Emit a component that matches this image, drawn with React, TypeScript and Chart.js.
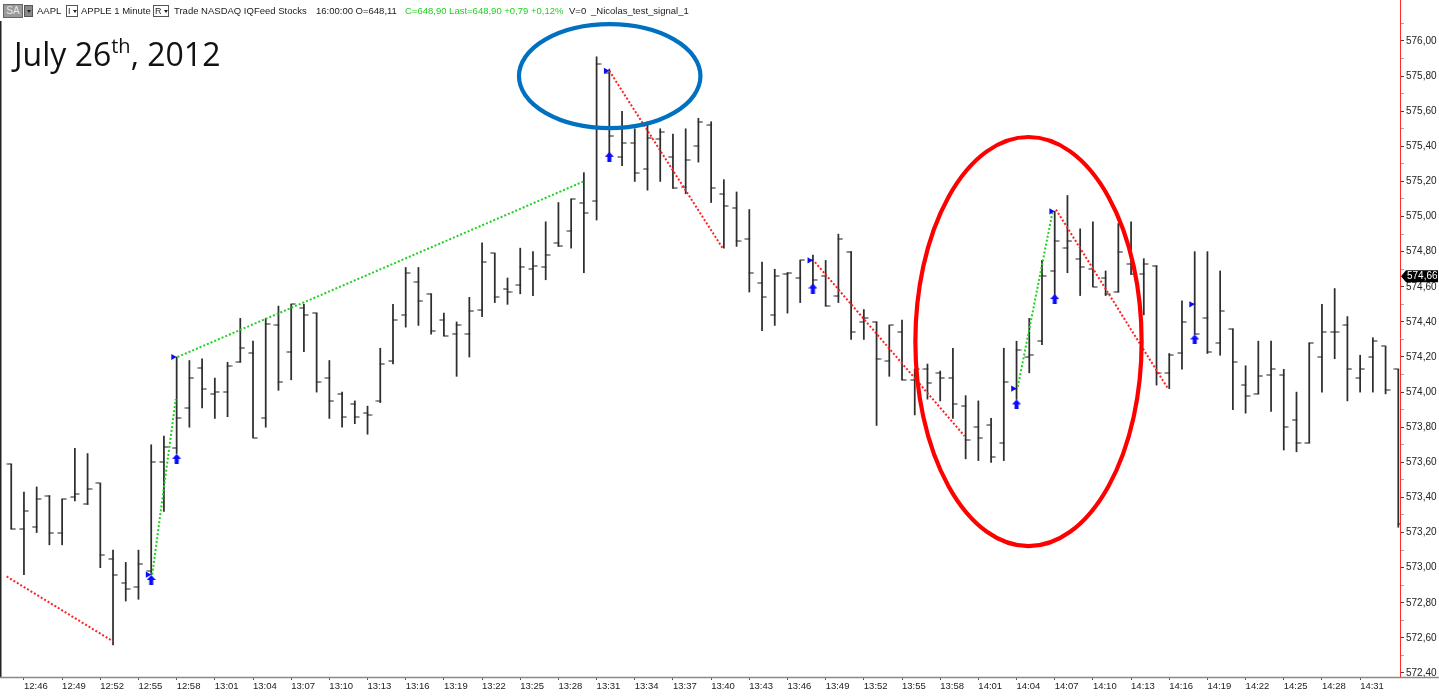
import React, { useEffect, useRef } from "react";
import { Chart, registerables } from "chart.js";

Chart.register(...registerables);

// ---------------- data ----------------
const times = [
  "12:45", "12:46", "12:47", "12:48", "12:49", "12:50", "12:51", "12:52", "12:53", "12:54",
  "12:55", "12:56", "12:57", "12:58", "12:59", "13:00", "13:01", "13:02", "13:03", "13:04",
  "13:05", "13:06", "13:07", "13:08", "13:09", "13:10", "13:11", "13:12", "13:13", "13:14",
  "13:15", "13:16", "13:17", "13:18", "13:19", "13:20", "13:21", "13:22", "13:23", "13:24",
  "13:25", "13:26", "13:27", "13:28", "13:29", "13:30", "13:31", "13:32", "13:33", "13:34",
  "13:35", "13:36", "13:37", "13:38", "13:39", "13:40", "13:41", "13:42", "13:43", "13:44",
  "13:45", "13:46", "13:47", "13:48", "13:49", "13:50", "13:51", "13:52", "13:53", "13:54",
  "13:55", "13:56", "13:57", "13:58", "13:59", "14:00", "14:01", "14:02", "14:03", "14:04",
  "14:05", "14:06", "14:07", "14:08", "14:09", "14:10", "14:11", "14:12", "14:13", "14:14",
  "14:15", "14:16", "14:17", "14:18", "14:19", "14:20", "14:21", "14:22", "14:23", "14:24",
  "14:25", "14:26", "14:27", "14:28", "14:29", "14:30", "14:31", "14:32", "14:33", "14:34",
];

const openP = [
  573.59, 573.22, 573.23, 573.41, 573.2, 573.4, 573.36, 573.48, 573.05, 572.91,
  572.89, 572.98, 573.6, 573.68, 573.91, 574.14, 573.99, 574.0, 574.17, 574.22,
  573.85, 574.38, 574.23, 574.48, 574.45, 574.08, 573.99, 573.93, 573.88, 573.95,
  574.18, 574.44, 574.63, 574.56, 574.41, 574.33, 574.33, 574.47, 574.79, 574.59,
  574.61, 574.7, 574.71, 574.85, 574.92, 575.08, 575.09, 575.82, 575.34, 575.42,
  575.27, 575.44, 575.34, 575.17, 575.4, 575.52, 575.13, 575.05, 574.87, 574.62,
  574.44, 574.67, 574.65, 574.75, 574.66, 574.55, 574.8, 574.4, 574.4, 574.18,
  574.34, 574.07, 574.13, 574.11, 574.08, 573.92, 573.8, 573.81, 573.71, 574.02,
  574.2, 574.29, 574.69, 574.82, 574.76, 574.7, 574.65, 574.57, 574.73, 574.67,
  574.72, 574.11, 574.22, 574.5, 574.42, 574.28, 574.36, 574.04, 573.99, 574.1,
  574.1, 573.84, 573.71, 574.2, 574.34, 574.38, 574.08, 574.2, 574.26, 574.13,
];

const highP = [
  573.59, 573.43, 573.46, 573.41, 573.39, 573.68, 573.65, 573.48, 573.1, 573.03,
  573.1, 573.7, 573.75, 574.2, 574.18, 574.19, 574.08, 574.17, 574.42, 574.29,
  574.42, 574.49, 574.5, 574.5, 574.45, 574.18, 574.0, 573.95, 573.92, 574.25,
  574.5, 574.71, 574.71, 574.56, 574.45, 574.4, 574.54, 574.85, 574.79, 574.65,
  574.82, 574.8, 574.97, 575.08, 575.1, 575.25, 575.91, 575.84, 575.6, 575.5,
  575.54, 575.5, 575.47, 575.5, 575.56, 575.54, 575.21, 575.14, 575.04, 574.74,
  574.7, 574.68, 574.75, 574.78, 574.75, 574.9, 574.8, 574.47, 574.4, 574.38,
  574.41, 574.13, 574.16, 574.12, 574.25, 573.98, 573.95, 573.85, 574.25, 574.29,
  574.42, 574.75, 575.03, 575.12, 574.93, 574.97, 574.69, 574.96, 574.97, 574.76,
  574.72, 574.22, 574.52, 574.8, 574.8, 574.69, 574.36, 574.15, 574.29, 574.29,
  574.13, 574.0, 574.28, 574.5, 574.59, 574.43, 574.21, 574.31, 574.26, 574.13,
];

const lowP = [
  573.22, 572.96, 573.2, 573.13, 573.13, 573.38, 573.36, 573.0, 572.56, 572.81,
  572.82, 572.96, 573.32, 573.65, 573.8, 573.91, 573.85, 573.86, 574.17, 573.74,
  573.8, 574.01, 574.07, 574.23, 574.0, 573.85, 573.8, 573.82, 573.76, 573.94,
  574.16, 574.37, 574.38, 574.33, 574.32, 574.09, 574.2, 574.43, 574.51, 574.5,
  574.56, 574.55, 574.64, 574.83, 574.82, 574.68, 574.98, 575.36, 575.29, 575.2,
  575.15, 575.2, 575.16, 575.13, 575.31, 575.08, 574.82, 574.83, 574.57, 574.35,
  574.38, 574.45, 574.51, 574.6, 574.49, 574.51, 574.3, 574.3, 573.81, 574.09,
  574.07, 573.87, 573.96, 573.95, 573.85, 573.62, 573.61, 573.6, 573.61, 573.96,
  574.11, 574.27, 574.55, 574.68, 574.55, 574.6, 574.55, 574.57, 574.67, 574.44,
  574.04, 574.02, 574.13, 574.33, 574.22, 574.21, 573.9, 573.88, 573.99, 573.89,
  573.67, 573.66, 573.71, 574.0, 574.19, 573.95, 574.0, 574.0, 573.99, 573.23,
];

const closeP = [
  573.22, 573.32, 573.39, 573.2, 573.39, 573.42, 573.45, 573.07, 572.96, 572.88,
  573.02, 573.6, 573.69, 573.85, 574.08, 574.02, 574.0, 574.15, 574.25, 573.74,
  574.39, 574.06, 574.5, 574.44, 574.06, 573.95, 573.86, 573.86, 573.87, 574.16,
  574.41, 574.68, 574.52, 574.35, 574.32, 574.38, 574.46, 574.74, 574.54, 574.57,
  574.71, 574.72, 574.78, 574.83, 575.1, 575.02, 575.87, 575.46, 575.42, 575.25,
  575.45, 575.48, 575.16, 575.32, 575.54, 575.16, 575.06, 574.86, 574.68, 574.54,
  574.66, 574.68, 574.75, 574.64, 574.49, 574.87, 574.34, 574.42, 574.19, 574.38,
  574.07, 574.13, 574.05, 574.08, 573.93, 573.73, 573.74, 573.63, 574.06, 574.24,
  574.21, 574.66, 574.86, 574.86, 574.71, 574.6, 574.56, 574.8, 574.67, 574.73,
  574.11, 574.21, 574.4, 574.33, 574.23, 574.46, 574.17, 573.98, 574.09, 574.13,
  573.8, 573.71, 574.28, 574.34, 574.34, 574.13, 574.13, 574.29, 574.01, 573.25,
];

// signal markers (bar index, price)
const entryBars = [11, 13, 47, 63, 79, 82, 93];
const entryArrowPrice = [572.93, 573.62, 575.34, 574.59, 573.93, 574.53, 574.3];
const entryTrianglePrice = [572.96, 574.2, 575.83, 574.75, 574.02, 575.03, 574.5];

// signal trend lines: [startIndex, startPrice, endIndex, endPrice]
const redSignals = [
  [-0.36, 572.95, 8.0, 572.58],
  [47.0, 575.83, 55.9, 574.82],
  [63.16, 574.74, 74.91, 573.75],
  [82.1, 575.04, 90.9, 574.02],
];
const greenSignals = [
  [11.08, 572.96, 12.93, 573.96],
  [13.07, 574.2, 44.98, 575.2],
  [79.1, 574.03, 81.84, 575.03],
];

// labelled axis values
const xTickIndex = [1, 4, 7, 10, 13, 16, 19, 22, 25, 28, 31, 34, 37, 40, 43, 46, 49, 52, 55, 58, 61, 64, 67, 70, 73, 76, 79, 82, 85, 88, 91, 94, 97, 100, 103, 106];
const yMajorTicks = [572.4, 572.6, 572.8, 573.0, 573.2, 573.4, 573.6, 573.8, 574.0, 574.2, 574.4, 574.6, 574.8, 575.0, 575.2, 575.4, 575.6, 575.8, 576.0];
const lastPrice = 574.66;

// ---------------- layout / style ----------------
const W = 1439;
const H = 697;
const X_MIN = -0.489;
const X_MAX = 109.133;
const Y_MIN = 572.3772;
const Y_MAX = 576.1082;
const BAR_COLOR = "#2e2e2e";
const GREEN = "#22d022";
const RED = "#ff2020";
const BLUE = "#0a0aff";
const FONT = "'Liberation Sans', Arial, sans-serif";

// circled regions (annotation): centre index/price and radii
const highlightEllipses = [
  { cx: 47.03, cy: 575.8, rx: 7.13, ry: 0.296, color: "#0070c0" },
  { cx: 79.94, cy: 574.288, rx: 8.89, ry: 1.165, color: "#ff0000" },
];

function makeTickImage(left: boolean) {
  const c = document.createElement("canvas");
  c.width = 10;
  c.height = 2;
  const g = c.getContext("2d")!;
  g.fillStyle = BAR_COLOR;
  if (left) g.fillRect(0.5, 0.45, 5, 1.1);
  else g.fillRect(4.5, 0.45, 5, 1.1);
  return c;
}

function makeArrowImage() {
  const c = document.createElement("canvas");
  c.width = 9;
  c.height = 10;
  const g = c.getContext("2d")!;
  g.fillStyle = BLUE;
  g.beginPath();
  g.moveTo(0, 5);
  g.lineTo(4.5, 0);
  g.lineTo(9, 5);
  g.closePath();
  g.fill();
  g.fillRect(2.5, 4.5, 4, 5.5);
  return c;
}

const framePlugin = {
  id: "frame",
  afterDraw(chart: any) {
    const ctx = chart.ctx as CanvasRenderingContext2D;
    const xs = chart.scales.x;
    const ys = chart.scales.y;
    const area = chart.chartArea;
    ctx.save();
    // left border
    ctx.strokeStyle = "#222";
    ctx.lineWidth = 1.5;
    ctx.beginPath();
    ctx.moveTo(0.75, 21);
    ctx.lineTo(0.75, area.bottom);
    ctx.stroke();
    // bottom axis line
    ctx.strokeStyle = "#8a8a8a";
    ctx.lineWidth = 1.5;
    ctx.beginPath();
    ctx.moveTo(0, area.bottom + 0.5);
    ctx.lineTo(W, area.bottom + 0.5);
    ctx.stroke();
    // red price axis line
    ctx.strokeStyle = "#ff2a2a";
    ctx.lineWidth = 1;
    ctx.beginPath();
    ctx.moveTo(area.right + 0.5, 0);
    ctx.lineTo(area.right + 0.5, area.bottom);
    ctx.stroke();

    // highlight ellipses
    for (const e of highlightEllipses) {
      const cx = xs.getPixelForValue(e.cx);
      const cy = ys.getPixelForValue(e.cy);
      const rx = Math.abs(xs.getPixelForValue(e.cx + e.rx) - cx);
      const ry = Math.abs(ys.getPixelForValue(e.cy + e.ry) - cy);
      ctx.strokeStyle = e.color;
      ctx.lineWidth = 4.2;
      ctx.beginPath();
      ctx.ellipse(cx, cy, rx, ry, 0, 0, Math.PI * 2);
      ctx.stroke();
    }

    // last price tag
    const py = ys.getPixelForValue(lastPrice);
    const x0 = area.right + 1;
    ctx.fillStyle = "#000";
    ctx.beginPath();
    ctx.moveTo(x0, py);
    ctx.lineTo(x0 + 5, py - 6);
    ctx.lineTo(x0 + 37, py - 6);
    ctx.lineTo(x0 + 37, py + 6);
    ctx.lineTo(x0 + 5, py + 6);
    ctx.closePath();
    ctx.fill();
    ctx.fillStyle = "#fff";
    ctx.font = `10px ${FONT}`;
    ctx.textBaseline = "middle";
    ctx.textAlign = "left";
    ctx.fillText(lastPrice.toFixed(2).replace(".", ","), x0 + 6, py + 0.5);
    ctx.restore();
  },
};

function BoxButton({ left, width, label, dark }: { left: number; width: number; label: string; dark?: boolean }) {
  return (
    <div
      style={{
        position: "absolute",
        left,
        top: 5,
        width,
        height: 12,
        boxSizing: "border-box",
        border: "1px solid #555",
        background: dark ? "#8a8a8a" : "#fff",
        fontFamily: FONT,
        fontSize: 9,
        lineHeight: "10px",
        color: "#222",
        display: "flex",
        alignItems: "center",
        paddingLeft: 1,
      }}
    >
      {label && <span style={{ marginRight: 1 }}>{label}</span>}
      <span
        style={{
          width: 0,
          height: 0,
          borderLeft: "2.5px solid transparent",
          borderRight: "2.5px solid transparent",
          borderTop: "3px solid #222",
          marginLeft: 1,
        }}
      />
    </div>
  );
}

export default function App() {
  const ref = useRef<HTMLCanvasElement | null>(null);

  useEffect(() => {
    const canvas = ref.current;
    if (!canvas) return;
    const openImg = makeTickImage(true);
    const closeImg = makeTickImage(false);
    const arrowImg = makeArrowImage();

    const lineSet = (seg: number[], color: string) => ({
      type: "line" as const,
      data: [
        { x: seg[0], y: seg[1] },
        { x: seg[2], y: seg[3] },
      ],
      borderColor: color,
      borderWidth: 2,
      borderDash: [2, 2],
      pointRadius: 0,
      fill: false,
      tension: 0,
      order: 3,
    });

    const chart = new Chart(canvas, {
      type: "bar",
      data: {
        datasets: [
          {
            type: "bar",
            label: "High-Low",
            data: times.map((_, i) => ({ x: i, y: [lowP[i], highP[i]] })) as any,
            backgroundColor: BAR_COLOR,
            borderWidth: 0,
            barThickness: 1.1,
            order: 5,
          },
          {
            type: "scatter",
            label: "Open",
            data: times.map((_, i) => ({ x: i, y: openP[i] })),
            pointStyle: openImg as any,
            pointRadius: 3,
            order: 4,
          },
          {
            type: "scatter",
            label: "Close",
            data: times.map((_, i) => ({ x: i, y: closeP[i] })),
            pointStyle: closeImg as any,
            pointRadius: 3,
            order: 4,
          },
          ...redSignals.map((s) => lineSet(s, RED)),
          ...greenSignals.map((s) => lineSet(s, GREEN)),
          {
            type: "scatter",
            label: "Entry",
            data: entryBars.map((b, i) => ({ x: b - 0.28, y: entryTrianglePrice[i] })),
            pointStyle: "triangle",
            rotation: 90,
            pointRadius: 3.6,
            backgroundColor: BLUE,
            borderWidth: 0,
            order: 1,
          },
          {
            type: "scatter",
            label: "Signal",
            data: entryBars.map((b, i) => ({ x: b, y: entryArrowPrice[i] })),
            pointStyle: arrowImg as any,
            pointRadius: 4,
            order: 1,
          },
        ] as any,
      },
      options: {
        responsive: false,
        animation: false,
        events: [],
        layout: { padding: { left: 1, top: 22, right: 0, bottom: 0 } },
        plugins: {
          legend: { display: false },
          tooltip: { enabled: false },
          title: { display: false },
        },
        scales: {
          x: {
            type: "linear",
            min: X_MIN,
            max: X_MAX,
            offset: false,
            afterBuildTicks: (s: any) => {
              s.ticks = xTickIndex.map((v) => ({ value: v }));
            },
            afterFit: (s: any) => {
              s.height = 20;
            },
            ticks: {
              autoSkip: false,
              maxRotation: 0,
              minRotation: 0,
              align: "start",
              padding: 1,
              color: "#222",
              font: { family: FONT, size: 9.5 },
              callback: (v: any) => times[v as number] ?? "",
            },
            grid: {
              display: true,
              drawOnChartArea: false,
              drawTicks: true,
              tickLength: 3,
              color: "#555",
              offset: false,
            },
            border: { display: false },
          },
          y: {
            type: "linear",
            position: "right",
            min: Y_MIN,
            max: Y_MAX,
            beginAtZero: false,
            afterBuildTicks: (s: any) => {
              const t: { value: number }[] = [];
              for (const v of yMajorTicks) {
                t.push({ value: v });
                t.push({ value: Math.round((v + 0.1) * 10) / 10 });
              }
              s.ticks = t;
            },
            afterFit: (s: any) => {
              s.width = 39;
            },
            ticks: {
              autoSkip: false,
              padding: 2,
              color: "#222",
              font: { family: FONT, size: 10 },
              callback: (v: any) =>
                yMajorTicks.some((m) => Math.abs(m - v) < 1e-6) ? Number(v).toFixed(2).replace(".", ",") : "",
            },
            grid: {
              display: true,
              drawOnChartArea: false,
              drawTicks: true,
              tickLength: 4,
              tickColor: (c: any) =>
                yMajorTicks.some((m) => Math.abs(m - c.tick?.value) < 1e-6) ? "#444" : "#aaa",
            },
            border: { display: false },
          },
        },
      } as any,
      plugins: [framePlugin],
    });
    return () => chart.destroy();
  }, []);

  const hdr: React.CSSProperties = {
    position: "absolute",
    top: 5,
    fontFamily: FONT,
    fontSize: 9.5,
    lineHeight: "12px",
    color: "#1a1a1a",
    whiteSpace: "nowrap",
  };

  return (
    <div style={{ position: "fixed", left: 0, top: 0, width: W, height: H, background: "#fff", overflow: "hidden" }}>
      <canvas ref={ref} width={W} height={H} style={{ position: "absolute", left: 0, top: 0, width: W, height: H }} />
      {/* header bar */}
      <div
        style={{
          position: "absolute",
          left: 3,
          top: 4,
          width: 20,
          height: 14,
          boxSizing: "border-box",
          background: "#9a9a9a",
          border: "1px solid #666",
          color: "#e8e8e8",
          fontFamily: FONT,
          fontSize: 10,
          lineHeight: "12px",
          textAlign: "center",
        }}
      >
        SA
      </div>
      <BoxButton left={24} width={9} label="" dark />
      <span style={{ ...hdr, left: 37 }}>AAPL</span>
      <BoxButton left={66} width={12} label="I" />
      <span style={{ ...hdr, left: 81 }}>APPLE 1 Minute</span>
      <BoxButton left={153} width={16} label="R" />
      <span style={{ ...hdr, left: 174 }}>Trade NASDAQ IQFeed Stocks</span>
      <span style={{ ...hdr, left: 316 }}>16:00:00 O=648,11</span>
      <span style={{ ...hdr, left: 405, color: "#1fd11f" }}>C=648,90 Last=648,90 +0,79 +0,12%</span>
      <span style={{ ...hdr, left: 569 }}>V=0</span>
      <span style={{ ...hdr, left: 591 }}>_Nicolas_test_signal_1</span>
      {/* annotation title */}
      <div
        style={{
          position: "absolute",
          left: 14,
          top: 38,
          fontFamily: "'Open Sans', sans-serif",
          fontSize: 32,
          lineHeight: "32px",
          color: "#111",
          whiteSpace: "nowrap",
        }}
      >
        July 26
        <span style={{ fontSize: 20, position: "relative", top: -13 }}>th</span>, 2012
      </div>
    </div>
  );
}
